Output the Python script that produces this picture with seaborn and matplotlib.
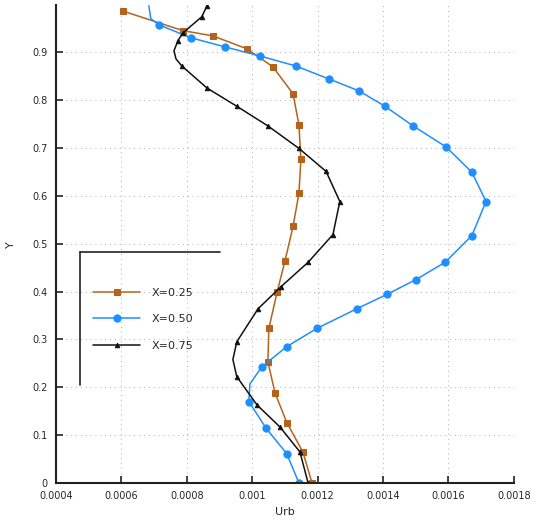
import numpy as np
import pandas as pd
import matplotlib
matplotlib.use("Agg")
import matplotlib.pyplot as plt
import seaborn as sns

# ---- data ----
u_025 = [0.000604, 0.000788, 0.000880, 0.000984, 0.001064, 0.001125, 0.001143, 0.001149,
         0.001143, 0.001125, 0.001100, 0.001076, 0.001051, 0.001048, 0.001070, 0.001106,
         0.001155, 0.001183]
y_025 = [0.986, 0.945, 0.934, 0.907, 0.869, 0.813, 0.748, 0.676,
         0.605, 0.536, 0.463, 0.398, 0.323, 0.253, 0.188, 0.126,
         0.065, 0.0]
mk_025 = list(range(len(u_025)))

u_050 = [0.000684, 0.000690, 0.000715, 0.000813, 0.000917, 0.001024, 0.001134, 0.001235,
         0.001327, 0.001406, 0.001492, 0.001593, 0.001672, 0.001715, 0.001672, 0.001590,
         0.001501, 0.001412, 0.001320, 0.001198, 0.001106, 0.001030, 0.000993, 0.000990,
         0.001042, 0.001106, 0.001143]
y_050 = [0.997, 0.970, 0.957, 0.930, 0.911, 0.892, 0.871, 0.844,
         0.819, 0.787, 0.746, 0.702, 0.649, 0.588, 0.517, 0.461,
         0.425, 0.394, 0.364, 0.323, 0.285, 0.243, 0.207, 0.170,
         0.115, 0.061, 0.0]
mk_050 = [i for i in range(len(u_050)) if i not in (0, 1, 22)]

u_075 = [0.000862, 0.000846, 0.000810, 0.000788, 0.000773, 0.000761, 0.000767, 0.000785,
         0.000862, 0.000953, 0.001048, 0.001143, 0.001226, 0.001268, 0.001247, 0.001171,
         0.001088, 0.001018, 0.000953, 0.000941, 0.000953, 0.001015, 0.001085, 0.001146,
         0.001171]
y_075 = [0.997, 0.974, 0.953, 0.940, 0.924, 0.903, 0.886, 0.871,
         0.825, 0.787, 0.746, 0.699, 0.651, 0.588, 0.519, 0.461,
         0.410, 0.364, 0.295, 0.258, 0.222, 0.163, 0.117, 0.065,
         0.0]
mk_075 = [0, 1, 3, 4, 7, 8, 9, 10, 11, 12, 13, 14, 15, 16, 17, 18, 20, 21, 22, 23, 24]

labels = ["X=0.25", "X=0.50", "X=0.75"]
colors = ["#B5631C", "#1E8FFF", "#111111"]
markers = ["s", "o", "^"]
msizes = [3.8, 5.2, 3.2]

x_ticks = [0.0004, 0.0006, 0.0008, 0.001, 0.0012, 0.0014, 0.0016, 0.0018]
y_ticks = [0, 0.1, 0.2, 0.3, 0.4, 0.5, 0.6, 0.7, 0.8, 0.9]

sns.set_theme(style="white")
plt.rcParams["font.family"] = ["DejaVu Sans"]

fig = plt.figure(figsize=(5.38, 5.25), dpi=100)
ax = fig.add_axes([0.104, 0.080, 0.851, 0.910])

series = [(u_025, y_025, mk_025), (u_050, y_050, mk_050), (u_075, y_075, mk_075)]
for (u, y, mk), lab, c, m, ms in zip(series, labels, colors, markers, msizes):
    df = pd.DataFrame({"U": u, "Y": y})
    sns.lineplot(data=df, x="U", y="Y", sort=False, estimator=None, ax=ax,
                 color=c, marker=m, markersize=ms, markevery=mk,
                 markeredgecolor=c, markerfacecolor=c, linewidth=1.1, label=lab)

ax.set_xlim(0.0004, 0.0018)
ax.set_ylim(0, 0.998)
ax.set_xticks(x_ticks)
ax.set_yticks(y_ticks)
ax.set_xticklabels(["%g" % v for v in x_ticks], fontsize=7)
ax.set_yticklabels(["%g" % v for v in y_ticks], fontsize=7)
ax.tick_params(direction="in", length=5, width=1.2, color="#222222", pad=6)
ax.tick_params(axis="both", which="both", bottom=True, left=True)

ax.grid(True, linestyle=(0, (1, 4)), color="#b0b0b0", linewidth=0.7)
for s in ["top", "right"]:
    ax.spines[s].set_visible(False)
for s in ["left", "bottom"]:
    ax.spines[s].set_color("#222222")
    ax.spines[s].set_linewidth(1.5)

ax.set_xlabel("Urb", fontsize=8, labelpad=4)
ax.set_ylabel("Y", fontsize=8, labelpad=12)

leg = ax.legend(loc="upper left", bbox_to_anchor=(0.060, 0.43), frameon=False,
                fontsize=8, handlelength=4.2, labelspacing=1.5, handletextpad=1.0)

# partial legend frame (top and left edges)
ax.plot([0.052, 0.358], [0.483, 0.483], transform=ax.transAxes, color="#222222",
        linewidth=1.2, clip_on=False)
ax.plot([0.052, 0.052], [0.483, 0.205], transform=ax.transAxes, color="#222222",
        linewidth=1.2, clip_on=False)

fig.savefig("out.png", dpi=100)
